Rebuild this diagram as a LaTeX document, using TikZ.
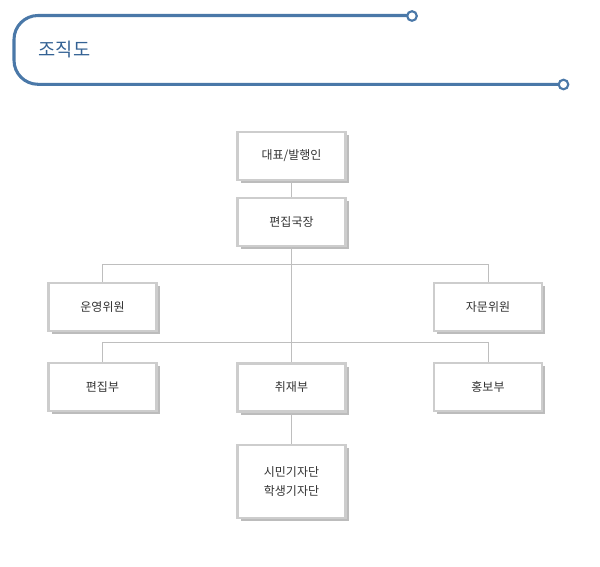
\documentclass[tikz,border=0pt]{standalone}
\usepackage{fontspec}
\setmainfont{Noto Sans CJK KR}
\usetikzlibrary{shadows}
\definecolor{hblue}{RGB}{74,120,168}
\definecolor{tblue}{RGB}{52,98,148}
\definecolor{bgray}{RGB}{205,205,205}
\definecolor{sgray}{RGB}{188,188,188}
\definecolor{lgray}{RGB}{190,190,190}
\definecolor{txt}{RGB}{51,51,51}
\begin{document}
\begin{tikzpicture}[x=0.75pt,y=-0.75pt,
  orgbox/.style={draw=bgray,line width=1.6pt,fill=white,minimum width=81pt,minimum height=36pt,
    inner sep=0pt,font=\fontsize{9}{14}\selectfont,text=txt,align=center,
    drop shadow={shadow xshift=2.6pt,shadow yshift=-2.6pt,fill=sgray,opacity=1}},
  conn/.style={draw=lgray,line width=0.75pt},
  hline/.style={draw=hblue,line width=2.3pt},
  dot/.style={circle,draw=hblue,line width=1.6pt,fill=white,minimum size=7.2pt,inner sep=0pt}]
\useasboundingbox (0,0) rectangle (600,567);
% header
\draw[hline,rounded corners=18pt] (408,15.5) -- (14,15.5) -- (14,84.3) -- (559,84.3);
\node[dot] (c1) at (412,16) {};
\node[dot] (c2) at (563.5,84.5) {};
\node[anchor=west,text=tblue,font=\fontsize{14}{16}\selectfont] (title) at (34,50) {조직도};
% boxes
\node[orgbox] (ceo) at (291.5,156) {대표/발행인};
\node[orgbox] (chief) at (291.5,222) {편집국장};
\node[orgbox] (yw) at (102.5,307) {운영위원};
\node[orgbox] (jm) at (488,307) {자문위원};
\node[orgbox] (pj) at (102.5,387) {편집부};
\node[orgbox] (cj) at (291.5,387.5) {취재부};
\node[orgbox] (hb) at (488,387) {홍보부};
\node[orgbox,minimum height=54.75pt] (sm) at (291.5,481.5) {시민기자단\\학생기자단};
% connectors
\draw[conn] (ceo.south) -- (chief.north);
\draw[conn] (chief.south) -- (cj.north);
\draw[conn] (yw.north) -- ++(0,-17) coordinate (l1) -| (jm.north);
\draw[conn] (pj.north) -- ++(0,-19) coordinate (l2) -| (hb.north);
\draw[conn] (cj.south) -- (sm.north);
\end{tikzpicture}
\end{document}
